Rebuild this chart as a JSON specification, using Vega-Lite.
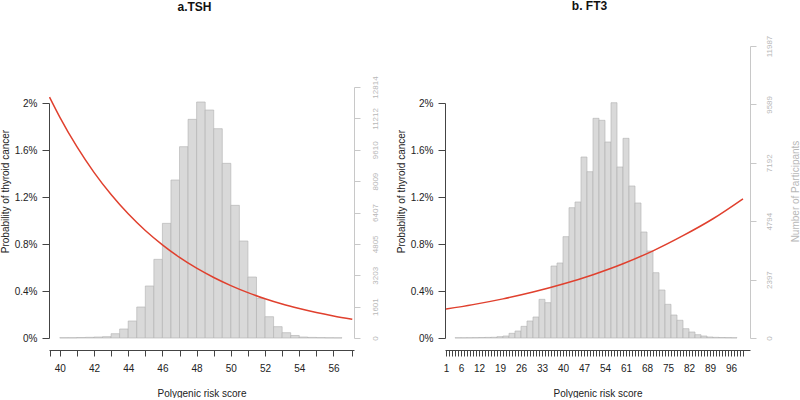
{
  "$schema": "https://vega.github.io/schema/vega-lite/v6.json",
  "padding": 0,
  "background": "white",
  "spacing": 17,
  "config": {
    "view": {"stroke": null},
    "font": "Liberation Sans",
    "axis": {"grid": false, "labelFont": "Liberation Sans", "titleFont": "Liberation Sans"},
    "title": {"font": "Liberation Sans"}
  },
  "datasets": {
    "histA": [
      {"score": 40, "score_end": 40.5, "count": 15},
      {"score": 40.5, "score_end": 41, "count": 15},
      {"score": 41, "score_end": 41.5, "count": 25},
      {"score": 41.5, "score_end": 42, "count": 35},
      {"score": 42, "score_end": 42.5, "count": 50},
      {"score": 42.5, "score_end": 43, "count": 68},
      {"score": 43, "score_end": 43.5, "count": 221},
      {"score": 43.5, "score_end": 44, "count": 460},
      {"score": 44, "score_end": 44.5, "count": 868},
      {"score": 44.5, "score_end": 45, "count": 1582},
      {"score": 45, "score_end": 45.5, "count": 2655},
      {"score": 45.5, "score_end": 46, "count": 4016},
      {"score": 46, "score_end": 46.5, "count": 5853},
      {"score": 46.5, "score_end": 47, "count": 8066},
      {"score": 47, "score_end": 47.5, "count": 9767},
      {"score": 47.5, "score_end": 48, "count": 11163},
      {"score": 48, "score_end": 48.5, "count": 12048},
      {"score": 48.5, "score_end": 49, "count": 11639},
      {"score": 49, "score_end": 49.5, "count": 10686},
      {"score": 49.5, "score_end": 50, "count": 8917},
      {"score": 50, "score_end": 50.5, "count": 6773},
      {"score": 50.5, "score_end": 51, "count": 4952},
      {"score": 51, "score_end": 51.5, "count": 3114},
      {"score": 51.5, "score_end": 52, "count": 2025},
      {"score": 52, "score_end": 52.5, "count": 1087},
      {"score": 52.5, "score_end": 53, "count": 579},
      {"score": 53, "score_end": 53.5, "count": 272},
      {"score": 53.5, "score_end": 54, "count": 128},
      {"score": 54, "score_end": 54.5, "count": 50},
      {"score": 54.5, "score_end": 55, "count": 30},
      {"score": 55, "score_end": 55.5, "count": 20},
      {"score": 55.5, "score_end": 56, "count": 12},
      {"score": 56, "score_end": 56.5, "count": 8}
    ],
    "curveA": [
      {"score": 39.4, "prob": 2.05},
      {"score": 40, "prob": 1.88},
      {"score": 41, "prob": 1.628},
      {"score": 42, "prob": 1.41},
      {"score": 43, "prob": 1.221},
      {"score": 44, "prob": 1.057},
      {"score": 45, "prob": 0.915},
      {"score": 46, "prob": 0.793},
      {"score": 47, "prob": 0.686},
      {"score": 48, "prob": 0.594},
      {"score": 49, "prob": 0.515},
      {"score": 50, "prob": 0.446},
      {"score": 51, "prob": 0.386},
      {"score": 52, "prob": 0.334},
      {"score": 53, "prob": 0.289},
      {"score": 54, "prob": 0.251},
      {"score": 55, "prob": 0.217},
      {"score": 56, "prob": 0.188},
      {"score": 57.1, "prob": 0.16}
    ],
    "histB": [
      {"score": 4, "score_end": 6, "count": 10},
      {"score": 6, "score_end": 8, "count": 10},
      {"score": 8, "score_end": 10, "count": 12},
      {"score": 10, "score_end": 12, "count": 15},
      {"score": 12, "score_end": 14, "count": 20},
      {"score": 14, "score_end": 16, "count": 25},
      {"score": 16, "score_end": 18, "count": 30},
      {"score": 18, "score_end": 20, "count": 55},
      {"score": 20, "score_end": 22, "count": 82},
      {"score": 22, "score_end": 24, "count": 192},
      {"score": 24, "score_end": 26, "count": 287},
      {"score": 26, "score_end": 28, "count": 479},
      {"score": 28, "score_end": 30, "count": 698},
      {"score": 30, "score_end": 32, "count": 862},
      {"score": 32, "score_end": 34, "count": 1587},
      {"score": 34, "score_end": 36, "count": 1450},
      {"score": 36, "score_end": 38, "count": 2955},
      {"score": 38, "score_end": 40, "count": 3079},
      {"score": 40, "score_end": 42, "count": 4160},
      {"score": 42, "score_end": 44, "count": 5350},
      {"score": 44, "score_end": 46, "count": 5583},
      {"score": 46, "score_end": 48, "count": 7430},
      {"score": 48, "score_end": 50, "count": 6827},
      {"score": 50, "score_end": 52, "count": 9019},
      {"score": 52, "score_end": 54, "count": 8937},
      {"score": 54, "score_end": 56, "count": 8046},
      {"score": 56, "score_end": 58, "count": 9659},
      {"score": 58, "score_end": 60, "count": 7020},
      {"score": 60, "score_end": 62, "count": 8198},
      {"score": 62, "score_end": 64, "count": 6240},
      {"score": 64, "score_end": 66, "count": 5542},
      {"score": 66, "score_end": 68, "count": 4351},
      {"score": 68, "score_end": 70, "count": 3571},
      {"score": 70, "score_end": 72, "count": 2681},
      {"score": 72, "score_end": 74, "count": 1970},
      {"score": 74, "score_end": 76, "count": 1383},
      {"score": 76, "score_end": 78, "count": 944},
      {"score": 78, "score_end": 80, "count": 727},
      {"score": 80, "score_end": 82, "count": 382},
      {"score": 82, "score_end": 84, "count": 246},
      {"score": 84, "score_end": 86, "count": 137},
      {"score": 86, "score_end": 88, "count": 82},
      {"score": 88, "score_end": 90, "count": 41},
      {"score": 90, "score_end": 92, "count": 27},
      {"score": 92, "score_end": 94, "count": 20},
      {"score": 94, "score_end": 96, "count": 15},
      {"score": 96, "score_end": 98, "count": 12}
    ],
    "curveB": [
      {"score": 1, "prob": 0.246},
      {"score": 10, "prob": 0.284},
      {"score": 20, "prob": 0.333},
      {"score": 30, "prob": 0.391},
      {"score": 40, "prob": 0.459},
      {"score": 50, "prob": 0.539},
      {"score": 60, "prob": 0.632},
      {"score": 70, "prob": 0.742},
      {"score": 80, "prob": 0.871},
      {"score": 90, "prob": 1.015},
      {"score": 100, "prob": 1.185}
    ]
  },
  "hconcat": [
    {
      "width": 305,
      "height": 292,
      "title": {"text": "a.TSH", "frame": "group", "offset": 23, "baseline": "alphabetic", "fontSize": 12, "fontWeight": "bold", "dx": -7, "anchor": "middle", "color": "#111111"},
      "encoding": {
        "x": {"field": "score", "type": "quantitative", "title": "Polygenic risk score",
          "scale": {"domain": [39.37, 57.2], "nice": false, "zero": false},
          "axis": {"orient": "bottom", "offset": 12, "tickSize": 6, "labelPadding": 7, "titlePadding": 15, "tickCount": 100, "tickMinStep": 0.01,
            "values": [39.4, 40, 41, 42, 43, 44, 45, 46, 47, 48, 49, 50, 51, 52, 53, 54, 55, 56, 57.1],
            "labelExpr": "datum.value >= 40 && datum.value <= 56 && datum.value % 2 == 0 ? format(datum.value, 'd') : ''",
            "labelOverlap": false, "labelBound": false, "labelFlush": false,
            "labelFontSize": 10, "titleFontSize": 10, "titleFontWeight": "normal",
            "labelColor": "#222222", "titleColor": "#222222", "domainColor": "#444444", "tickColor": "#444444"}}
      },
      "layer": [
        {
          "data": {"name": "histA"},
          "mark": {"type": "bar", "fill": "#d9d9d9", "stroke": "#b0b0b0", "strokeWidth": 0.6},
          "encoding": {
            "x2": {"field": "score_end"},
            "y": {"field": "count", "type": "quantitative",
              "scale": {"domain": [0, 12814], "range": [292, 41], "nice": false},
              "axis": {"orient": "right", "title": null, "values": [0, 1601, 3203, 4805, 6407, 8009, 9610, 11212, 12814], "format": "d", "tickCount": 100,
                "labelAngle": 270, "labelAlign": "center", "labelBaseline": "top", "labelPadding": 11, "tickSize": 6,
                "labelFontSize": 8, "labelColor": "#b8b8b8", "domainColor": "#c8c8c8", "tickColor": "#c8c8c8", "labelOverlap": false}},
            "y2": {"datum": 0}
          }
        },
        {
          "data": {"name": "curveA"},
          "mark": {"type": "line", "color": "#e0402e", "strokeWidth": 1.5, "interpolate": "monotone"},
          "encoding": {
            "y": {"field": "prob", "type": "quantitative",
              "scale": {"domain": [0, 2], "range": [292, 57], "nice": false},
              "axis": {"orient": "left", "values": [0, 0.4, 0.8, 1.2, 1.6, 2], "format": ".1~f", "labelExpr": "datum.label + '%'", "tickCount": 100,
                "title": "Probability of thyroid cancer", "titleFontSize": 10, "titleFontWeight": "normal", "titleColor": "#222222",
                "titleX": -39, "titleY": 145, "titleAngle": 270, "titleBaseline": "bottom", "titleAlign": "center",
                "labelFontSize": 10, "labelColor": "#222222", "labelPadding": 5, "tickSize": 7,
                "domainColor": "#444444", "tickColor": "#444444", "labelOverlap": false}}
          }
        }
      ],
      "resolve": {"scale": {"y": "independent"}, "axis": {"y": "independent"}}
    },
    {
      "width": 305,
      "height": 292,
      "title": {"text": "b. FT3", "frame": "group", "offset": 13, "baseline": "alphabetic", "fontSize": 12, "fontWeight": "bold", "dx": -8, "anchor": "middle", "color": "#111111"},
      "encoding": {
        "x": {"field": "score", "type": "quantitative", "title": "Polygenic risk score",
          "scale": {"domain": [0.667, 102.333], "nice": false, "zero": false},
          "axis": {"orient": "bottom", "offset": 12, "tickSize": 6, "labelPadding": 7, "titlePadding": 15, "tickCount": 200, "tickMinStep": 0.01,
            "values": [1,2,3,4,5,6,7,8,9,10,11,12,13,14,15,16,17,18,19,20,21,22,23,24,25,26,27,28,29,30,31,32,33,34,35,36,37,38,39,40,41,42,43,44,45,46,47,48,49,50,51,52,53,54,55,56,57,58,59,60,61,62,63,64,65,66,67,68,69,70,71,72,73,74,75,76,77,78,79,80,81,82,83,84,85,86,87,88,89,90,91,92,93,94,95,96,97,98,99,100],
            "labelExpr": "indexof([1,6,12,19,26,33,40,47,54,61,68,75,82,89,96], datum.value) >= 0 ? format(datum.value, 'd') : ''",
            "labelOverlap": false, "labelBound": false, "labelFlush": false,
            "labelFontSize": 10, "titleFontSize": 10, "titleFontWeight": "normal",
            "labelColor": "#222222", "titleColor": "#222222", "domainColor": "#444444", "tickColor": "#444444"}}
      },
      "layer": [
        {
          "data": {"name": "histB"},
          "mark": {"type": "bar", "fill": "#d9d9d9", "stroke": "#b0b0b0", "strokeWidth": 0.6},
          "encoding": {
            "x2": {"field": "score_end"},
            "y": {"field": "count", "type": "quantitative",
              "scale": {"domain": [0, 11987], "range": [292, 0], "nice": false},
              "axis": {"orient": "right", "values": [0, 2397, 4794, 7192, 9589, 11987], "format": "d", "tickCount": 100,
                "labelAngle": 270, "labelAlign": "center", "labelBaseline": "top", "labelPadding": 9, "tickSize": 6,
                "labelFontSize": 8, "labelColor": "#b8b8b8", "domainColor": "#c8c8c8", "tickColor": "#c8c8c8", "labelOverlap": false,
                "title": "Number of Participants", "titleFontSize": 10, "titleFontWeight": "normal", "titleColor": "#b8b8b8",
                "titleX": 50, "titleY": 145, "titleAngle": 270, "titleBaseline": "bottom", "titleAlign": "center"}},
            "y2": {"datum": 0}
          }
        },
        {
          "data": {"name": "curveB"},
          "mark": {"type": "line", "color": "#e0402e", "strokeWidth": 1.5, "interpolate": "monotone"},
          "encoding": {
            "y": {"field": "prob", "type": "quantitative",
              "scale": {"domain": [0, 2], "range": [292, 57], "nice": false},
              "axis": {"orient": "left", "values": [0, 0.4, 0.8, 1.2, 1.6, 2], "format": ".1~f", "labelExpr": "datum.label + '%'", "tickCount": 100,
                "title": "Probability of thyroid cancer", "titleFontSize": 10, "titleFontWeight": "normal", "titleColor": "#222222",
                "titleX": -39, "titleY": 145, "titleAngle": 270, "titleBaseline": "bottom", "titleAlign": "center",
                "labelFontSize": 10, "labelColor": "#222222", "labelPadding": 5, "tickSize": 7,
                "domainColor": "#444444", "tickColor": "#444444", "labelOverlap": false}}
          }
        }
      ],
      "resolve": {"scale": {"y": "independent"}, "axis": {"y": "independent"}}
    }
  ]
}
